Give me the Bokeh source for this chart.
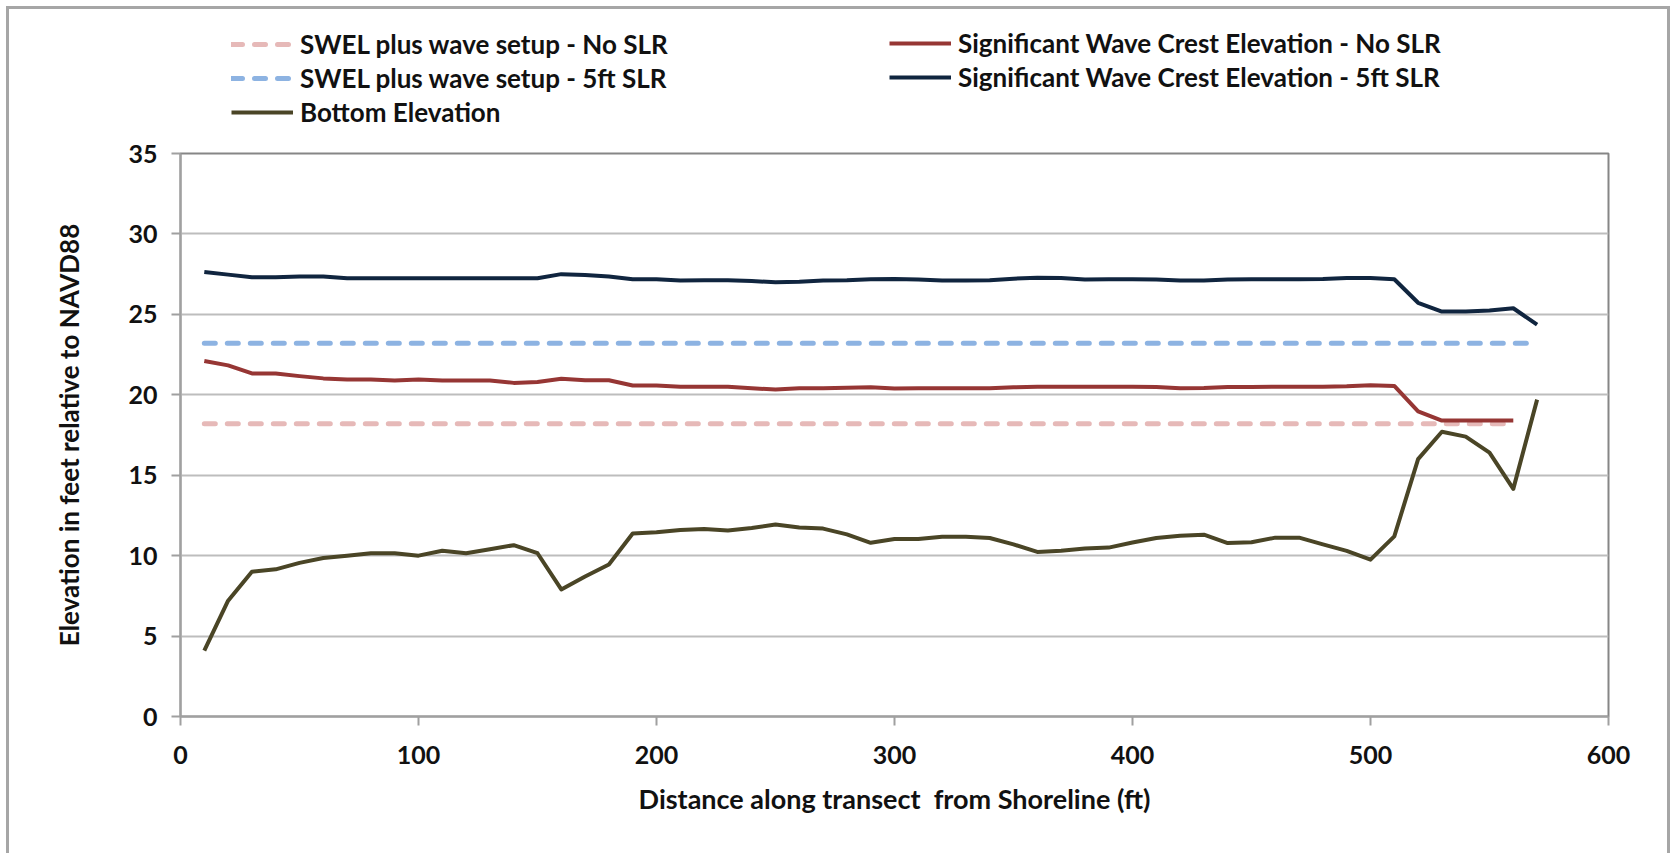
from bokeh.plotting import figure
from bokeh.layouts import column
from bokeh.models import Legend, LegendItem, FixedTicker
from bokeh.embed import file_html
from bokeh.resources import INLINE

# ---- data ----
x_bottom = [10, 20, 30, 40, 50, 60, 70, 80, 90, 100, 110, 120, 130, 140, 150, 160, 170, 180, 190, 200,
            210, 220, 230, 240, 250, 260, 270, 280, 290, 300, 310, 320, 330, 340, 350, 360, 370, 380, 390, 400,
            410, 420, 430, 440, 450, 460, 470, 480, 490, 500, 510, 520, 530, 540, 550, 560, 570]
bottom_elev = [4.1, 7.2, 9.0, 9.15, 9.55, 9.85, 10.0, 10.15, 10.15, 10.0, 10.3, 10.15, 10.4, 10.65, 10.15,
               7.9, 8.7, 9.45, 11.38, 11.45, 11.6, 11.65, 11.57, 11.72, 11.93, 11.75, 11.68, 11.32, 10.8, 11.03,
               11.03, 11.18, 11.18, 11.1, 10.7, 10.23, 10.3, 10.44, 10.5, 10.82, 11.1, 11.24, 11.3, 10.78, 10.83,
               11.12, 11.12, 10.7, 10.3, 9.75, 11.2, 16.0, 17.7, 17.4, 16.4, 14.15, 19.7]

x_crest_no_slr = x_bottom[:-1]
crest_no_slr = [22.1, 21.83, 21.33, 21.33, 21.16, 21.02, 20.95, 20.95, 20.89, 20.95, 20.89, 20.89, 20.89,
                20.74, 20.8, 21.0, 20.9, 20.9, 20.58, 20.58, 20.5, 20.5, 20.5, 20.4, 20.33, 20.4, 20.4, 20.43,
                20.47, 20.39, 20.4, 20.4, 20.4, 20.4, 20.47, 20.5, 20.5, 20.5, 20.5, 20.5, 20.48, 20.4, 20.42,
                20.48, 20.48, 20.5, 20.5, 20.5, 20.53, 20.6, 20.55, 18.97, 18.4, 18.4, 18.4, 18.4]

x_crest_5ft = x_bottom
crest_5ft = [27.64, 27.47, 27.3, 27.3, 27.35, 27.35, 27.24, 27.24, 27.24, 27.24, 27.24, 27.24, 27.24, 27.24,
             27.24, 27.5, 27.45, 27.35, 27.18, 27.18, 27.1, 27.12, 27.12, 27.07, 27.0, 27.03, 27.1, 27.12,
             27.18, 27.2, 27.16, 27.1, 27.1, 27.12, 27.22, 27.28, 27.26, 27.16, 27.18, 27.18, 27.16, 27.1,
             27.1, 27.16, 27.18, 27.18, 27.18, 27.2, 27.26, 27.26, 27.18, 25.72, 25.17, 25.17, 25.24, 25.38,
             24.36]

x_swel_no_slr = [10, 560]
swel_no_slr = [18.2, 18.2]
x_swel_5ft = [10, 570]
swel_5ft = [23.2, 23.2]

x_ticks = [0, 100, 200, 300, 400, 500, 600]
y_ticks = [0, 5, 10, 15, 20, 25, 30, 35]

labels = ["SWEL plus wave setup - No SLR", "SWEL plus wave setup - 5ft SLR", "Bottom Elevation",
          "Significant Wave Crest Elevation - No SLR", "Significant Wave Crest Elevation - 5ft SLR"]

FONT = "Lato"
TXT = "#111111"

# styles
S_SWEL0 = dict(line_color="#e6b9b8", line_width=5, line_dash="11 12", line_cap="round")
S_SWEL5 = dict(line_color="#8db3e2", line_width=5, line_dash="11 12", line_cap="round")
S_BOT = dict(line_color="#4a4526", line_width=4, line_join="round")
S_C0 = dict(line_color="#963634", line_width=4, line_join="round")
S_C5 = dict(line_color="#10253f", line_width=4, line_join="round")

W = 1658
LEG_H = 130
MAIN_H = 714
LB = 171

# ---- legend strip (frame is aligned with the chart frame below) ----
pl = figure(width=W, height=LEG_H, output_backend="svg", toolbar_location=None,
            x_range=(0, 1), y_range=(0, 1),
            x_axis_location=None, y_axis_location=None,
            min_border_left=LB, min_border_right=59, min_border_top=0, min_border_bottom=0)
pl.outline_line_color = None
pl.grid.visible = False
# legend proxies lie outside the visible range (clipped), they only feed the legend swatches
hx, hy = [-5, -4], [-5, -5]
g0 = pl.line(hx, hy, **S_SWEL0)
g5 = pl.line(hx, hy, **S_SWEL5)
gb = pl.line(hx, hy, **S_BOT)
gc0 = pl.line(hx, hy, **S_C0)
gc5 = pl.line(hx, hy, **S_C5)


def make_legend(items, loc):
    lg = Legend(items=items, location=loc, orientation="vertical")
    lg.label_text_font = FONT
    lg.label_text_font_style = "bold"
    lg.label_text_font_size = "26px"
    lg.label_text_color = TXT
    lg.glyph_width = 62
    lg.glyph_height = 34
    lg.label_height = 34
    lg.label_standoff = 7
    lg.spacing = 0
    lg.padding = 0
    lg.margin = 0
    lg.border_line_alpha = 0
    lg.background_fill_alpha = 0
    return lg


pl.add_layout(make_legend([LegendItem(label=labels[0], renderers=[g0]),
                           LegendItem(label=labels[1], renderers=[g5]),
                           LegendItem(label=labels[2], renderers=[gb])], (51, 10)))
pl.add_layout(make_legend([LegendItem(label=labels[3], renderers=[gc0]),
                           LegendItem(label=labels[4], renderers=[gc5])], (709, 45)))

# ---- main chart ----
p = figure(width=W, height=MAIN_H, output_backend="svg", toolbar_location=None,
           x_range=(0, 600), y_range=(0, 35),
           min_border_left=LB, min_border_right=59, min_border_top=14, min_border_bottom=137)

p.outline_line_color = "#868686"
p.outline_line_width = 2

p.xgrid.visible = False
p.ygrid.ticker = FixedTicker(ticks=y_ticks)
p.ygrid.grid_line_color = "#bdbdbd"
p.ygrid.grid_line_width = 2

for ax, ticks in ((p.xaxis[0], x_ticks), (p.yaxis[0], y_ticks)):
    ax.ticker = FixedTicker(ticks=ticks)
    ax.axis_line_color = "#a0a0a0"
    ax.axis_line_width = 2
    ax.major_tick_line_color = "#a0a0a0"
    ax.major_tick_line_width = 2
    ax.major_tick_out = 9
    ax.major_tick_in = 0
    ax.minor_tick_line_color = None
    ax.major_label_text_font = FONT
    ax.major_label_text_font_style = "bold"
    ax.major_label_text_font_size = "25px"
    ax.major_label_text_color = TXT
    ax.axis_label_text_font = FONT
    ax.axis_label_text_font_style = "bold"
    ax.axis_label_text_color = TXT

p.xaxis.axis_label = "Distance along transect\u00a0 from Shoreline (ft)"
p.yaxis.axis_label = "Elevation in feet relative to NAVD88"
p.xaxis.axis_label_text_font_size = "27px"
p.yaxis.axis_label_text_font_size = "26px"
p.xaxis.major_label_standoff = 20
p.yaxis.major_label_standoff = 14
p.xaxis.axis_label_standoff = 15
p.yaxis.axis_label_standoff = 40

p.line(x_swel_no_slr, swel_no_slr, **S_SWEL0)
p.line(x_swel_5ft, swel_5ft, **S_SWEL5)
p.line(x_bottom, bottom_elev, **S_BOT)
p.line(x_crest_no_slr, crest_no_slr, **S_C0)
p.line(x_crest_5ft, crest_5ft, **S_C5)

layout = column(pl, p, spacing=0)
layout.styles = {"margin-left": "6px", "margin-top": "6px",
                 "border-left": "3px solid #a6a6a6", "border-top": "3px solid #a6a6a6",
                 "border-right": "3px solid #a6a6a6"}

open("out.html", "w").write(file_html(layout, INLINE))
